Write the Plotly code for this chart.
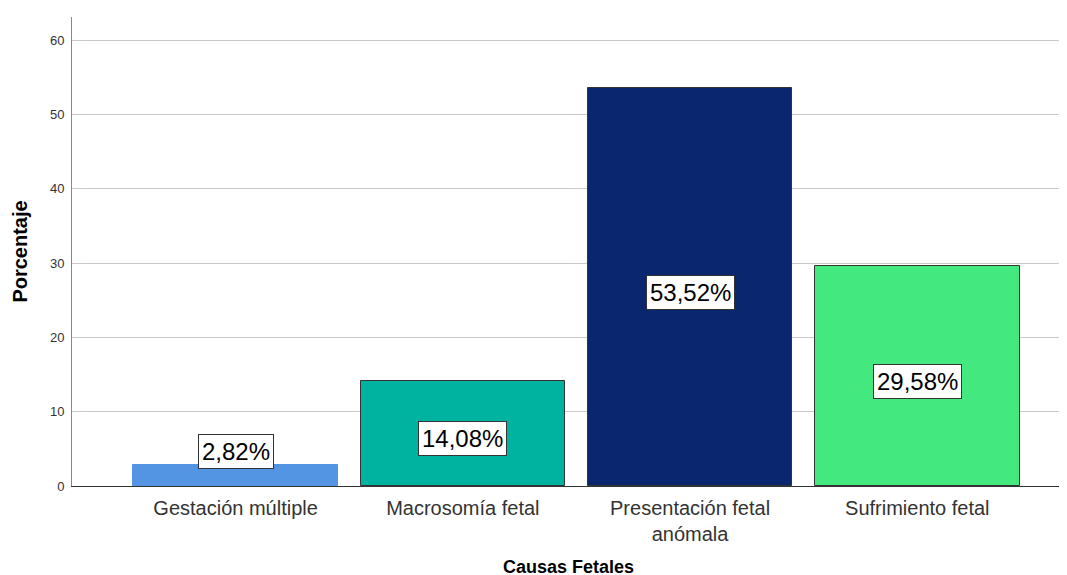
import plotly.graph_objects as go

categories = ["Gestación múltiple", "Macrosomía fetal", "Presentación fetal<br>anómala", "Sufrimiento fetal"]
values = [2.82, 14.08, 53.52, 29.58]
labels = ["2,82%", "14,08%", "53,52%", "29,58%"]
colors = ["#5394E3", "#00B3A0", "#0A266E", "#43E97F"]
outline = ["#5394E3", "#333333", "#333333", "#333333"]
y_ticks = [0, 10, 20, 30, 40, 50, 60]

xpos = list(range(len(categories)))
FONT = "Liberation Sans, Arial, sans-serif"

fig = go.Figure()
fig.add_trace(go.Bar(
    x=xpos, y=values, width=0.9,
    marker=dict(color=colors, line=dict(color=outline, width=1)),
    hoverinfo="skip",
))

label_floor = 5.25
for xi, v, t in zip(xpos, values, labels):
    fig.add_annotation(
        x=xi, y=max(v / 2, label_floor), text=t, showarrow=False, yshift=-5,
        font=dict(family=FONT, size=24, color="#000000"),
        bgcolor="#FFFFFF", bordercolor="#333333", borderwidth=1, borderpad=3,
    )

fig.update_layout(
    width=1067, height=575,
    margin=dict(l=64, r=10, t=9, b=92),
    plot_bgcolor="#FFFFFF", paper_bgcolor="#FFFFFF",
    showlegend=False,
    font=dict(family=FONT, color="#222222"),
    bargap=0,
)
fig.update_xaxes(
    range=[-0.72, 3.65],
    tickmode="array", tickvals=xpos, ticktext=categories,
    tickfont=dict(size=20, color="#333333"),
    showgrid=False, zeroline=False,
    showline=True, linecolor="#333333", linewidth=1,
    ticks="", ticklen=0, ticklabelstandoff=4,
    title=dict(text="<b>Causas Fetales</b>", font=dict(size=18, color="#000000"), standoff=16),
)
fig.update_yaxes(
    range=[0, 63.1],
    tickmode="array", tickvals=y_ticks,
    tickfont=dict(size=13, color="#333333"),
    showgrid=True, gridcolor="#C8C8C8", gridwidth=1,
    zeroline=False,
    showline=True, linecolor="#888888", linewidth=1,
    ticks="", ticklen=0, ticklabelstandoff=4,
    title=dict(text="<b>Porcentaje</b>", font=dict(size=20, color="#000000"), standoff=16),
)

fig.write_html("out.html")
